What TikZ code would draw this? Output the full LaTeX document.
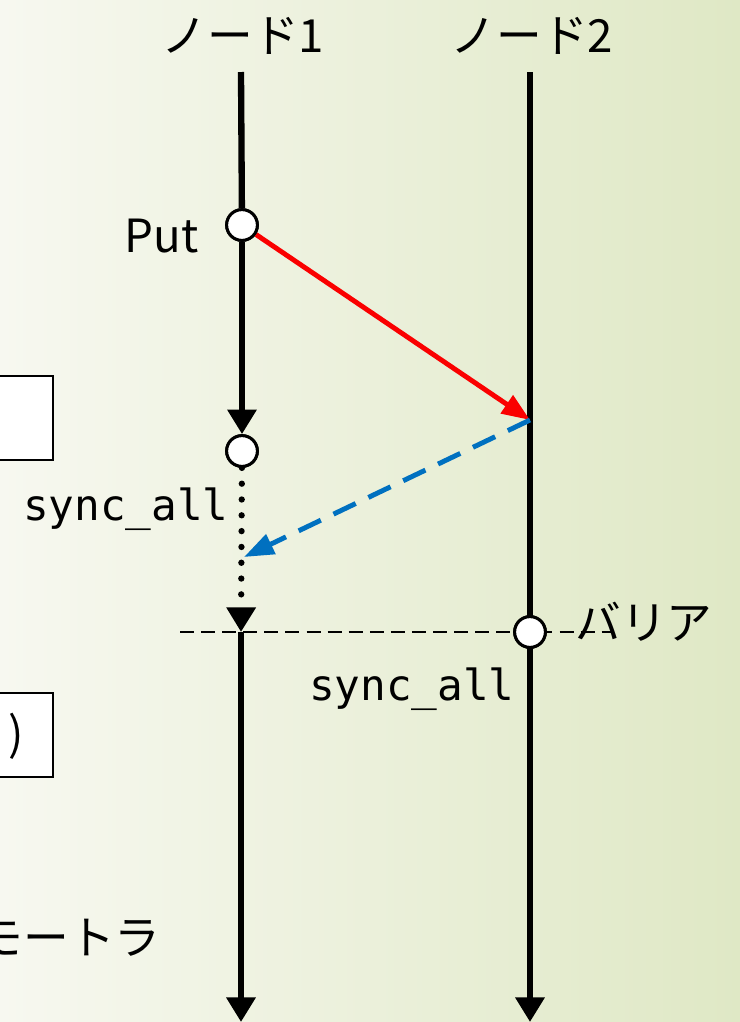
\documentclass[tikz,border=0pt]{standalone}
\usepackage{fontspec}
\setmainfont{Noto Sans CJK JP}
\setmonofont{DejaVu Sans Mono}
\usetikzlibrary{arrows.meta,positioning}
\definecolor{paper}{RGB}{247,248,240}
\definecolor{moss}{RGB}{223,232,197}
\definecolor{signal}{RGB}{250,0,0}
\definecolor{reply}{RGB}{0,112,192}
\tikzset{
  life/.style={line width=3.6pt,draw=black},
  tip/.style={-{Triangle[length=14pt,width=16pt]}},
  event/.style={circle,draw=black,fill=white,line width=1.7pt,minimum size=17.5pt,inner sep=0pt},
  lbl/.style={font=\fontsize{26}{30}\selectfont,inner sep=0pt},
  code/.style={font=\ttfamily\fontsize{24.3}{28}\selectfont,inner sep=0pt},
  slot/.style={draw=black,fill=white,line width=1.4pt,minimum width=60pt,minimum height=47.6pt,inner sep=0pt},
}
\begin{document}
\begin{tikzpicture}[x=0.02cm,y=-0.02cm]
  \useasboundingbox (0,0) rectangle (740,1022);
  \clip (0,0) rectangle (740,1022);
  \shade[left color=paper,right color=moss] (0,0) rectangle (740,1022);
  % cut-off parts on the left
  \node[slot,anchor=east] (slotA) at (54,418) {};
  \node[slot,anchor=east] (slotB) at (54,735) {};
  \node[lbl,anchor=center] (paren) at (16,736) {)};
  \node[lbl,anchor=east] (remote) at (161,938) {モートラ};
  % lifelines
  \node[lbl] (head1) at (243,36) {ノード1};
  \node[lbl] (head2) at (532,36) {ノード2};
  \coordinate (n1top) at (241,72);
  \coordinate (n1bot) at (241,1022);
  \coordinate (n2top) at (530,72);
  \coordinate (n2bot) at (530,1022);
  \coordinate (recv) at (530,420);
  \coordinate (meet) at (244,557);
  \coordinate (wait) at (241,632);
  \coordinate (barL) at (180,632);
  \coordinate (barR) at (612,632);
  \node[event] (put) at (242,225) {};
  \node[event] (done) at (242,451) {};
  \node[event] (bar) at (530,632) {};
  \draw[dashed,line width=0.85pt,dash pattern=on 8pt off 4pt] (barL) -- (barR);
  \draw[life] (n1top) -- (put);
  \draw[life,tip] (put) -- (done);
  \draw[life,tip,line cap=round,dash pattern=on 0pt off 9pt] (done) -- (wait);
  \draw[life,tip] (wait) -- (n1bot);
  \draw[life,tip] (n2top) -- (n2bot);
  \draw[signal,line width=2.8pt,-{Triangle[length=16pt,width=12pt]}] (put) -- (recv);
  \draw[reply,line width=2.8pt,dash pattern=on 14pt off 8pt,-{Triangle[length=17pt,width=12pt]}] (recv) -- (meet);
  \node[event] at (put) {};
  \node[event] at (done) {};
  \node[event] at (bar) {};
  % labels
  \node[lbl,anchor=base east] (putlbl) at (199,252) {Put};
  \node[code,anchor=base east] (sync1) at (229,520) {sync\_all};
  \node[code,anchor=base east] (sync2) at (515,700) {sync\_all};
  \node[lbl,anchor=west] (barrier) at (575,622) {バリア};
\end{tikzpicture}
\end{document}
